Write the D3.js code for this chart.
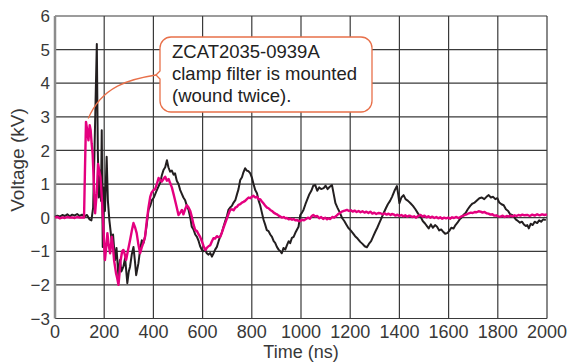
<!DOCTYPE html>
<html>
<head>
<meta charset="utf-8">
<script src="https://cdn.jsdelivr.net/npm/d3@7"></script>
<style>
  body { margin: 0; background: #fff; }
  svg { display: block; font-family: "Liberation Sans", Arial, sans-serif; }
</style>
</head>
<body>
<div id="chart"></div>
<script>
// axis ticks
var xTicks = [0, 200, 400, 600, 800, 1000, 1200, 1400, 1600, 1800, 2000];
var yTicks = [-3, -2, -1, 0, 1, 2, 3, 4, 5, 6];

// waveform without filter (black), time in ns / voltage in kV
var blackTime = [0,10,20,30,40,50,60,70,80,90,100,110,120,130,140,148,155,160,165,170,174,178,183,187,190,194,198,203,210,215,221,226,231,236,244,250,258,264,270,278,285,294,300,305,312,319,325,330,339,346,353,360,366,373,380,387,394,402,411,419,427,434,441,448,455,461,468,475,482,488,495,502,509,516,522,529,536,543,550,556,563,570,577,584,590,597,604,610,617,624,631,638,645,651,658,665,672,678,685,692,699,705,712,719,726,733,740,746,753,760,766,773,780,787,794,800,807,814,821,828,834,841,848,854,861,868,875,882,889,895,902,909,916,922,929,936,943,950,956,963,970,977,984,990,997,1004,1010,1018,1026,1034,1042,1050,1058,1066,1074,1082,1092,1100,1108,1117,1126,1133,1140,1148,1158,1167,1176,1184,1192,1201,1210,1220,1230,1241,1250,1259,1268,1276,1285,1294,1302,1310,1319,1328,1336,1345,1353,1362,1370,1380,1390,1395,1400,1408,1417,1425,1435,1445,1455,1465,1476,1486,1495,1505,1512,1519,1528,1536,1545,1553,1562,1570,1578,1586,1594,1602,1611,1620,1628,1636,1645,1652,1660,1669,1678,1688,1697,1706,1716,1725,1735,1745,1754,1763,1772,1781,1790,1798,1806,1815,1824,1833,1842,1850,1858,1865,1873,1882,1890,1898,1906,1914,1920,1926,1934,1942,1950,1960,1968,1976,1985,1995];
var blackVolt = [0.02,0.06,0.03,0.08,0.05,0.10,0.04,0.09,0.06,0.11,0.05,0.09,0.04,0.08,-0.05,-0.08,0.3,1.8,3.5,5.17,2.0,0.6,1.4,0.5,2.6,-0.87,0.9,0.2,1.81,0.5,-0.07,-0.4,-0.76,-0.5,-1.26,-0.9,-1.76,-1.26,-1.6,-1.46,-1.2,-1.95,-1.6,-1.46,-1.1,-0.87,-1.3,-1.71,-1.36,-0.95,-0.67,-0.75,-0.57,-0.2,0.23,0.35,0.52,0.6,0.77,0.9,1.03,1.25,1.42,1.5,1.71,1.5,1.37,1.4,1.28,1.32,1.1,1.0,0.82,0.7,0.6,0.52,0.35,0.23,0.0,-0.27,-0.35,-0.5,-0.57,-0.7,-0.85,-0.96,-1.0,-0.95,-1.06,-1.1,-1.05,-1.16,-1.05,-0.95,-0.87,-0.7,-0.55,-0.45,-0.27,-0.1,0.05,0.23,0.3,0.35,0.45,0.52,0.7,0.85,1.12,1.2,1.35,1.47,1.4,1.38,1.32,1.2,1.0,0.82,0.73,0.5,0.37,0.15,-0.07,-0.2,-0.37,-0.4,-0.5,-0.57,-0.7,-0.75,-0.87,-0.95,-1.0,-1.06,-0.9,-0.95,-0.82,-0.7,-0.76,-0.6,-0.57,-0.45,-0.35,-0.27,0.08,0.15,0.23,0.4,0.55,0.7,0.8,0.95,0.97,0.8,0.9,0.85,0.88,0.95,0.85,0.92,0.97,0.7,0.43,0.3,0.15,-0.01,-0.1,-0.2,-0.3,-0.37,-0.45,-0.55,-0.62,-0.72,-0.78,-0.85,-0.88,-0.78,-0.7,-0.55,-0.42,-0.3,-0.15,0.0,0.14,0.28,0.4,0.5,0.62,0.8,0.94,0.7,0.43,0.6,0.67,0.55,0.5,0.43,0.35,0.25,0.12,0.03,-0.1,-0.18,-0.25,-0.32,-0.2,-0.3,-0.22,-0.27,-0.38,-0.35,-0.42,-0.48,-0.46,-0.4,-0.3,-0.32,-0.22,-0.15,-0.05,0.0,0.08,0.14,0.25,0.35,0.42,0.45,0.52,0.58,0.6,0.55,0.62,0.67,0.6,0.62,0.55,0.58,0.45,0.4,0.37,0.25,0.2,0.1,0.08,0.03,-0.05,-0.1,-0.15,-0.12,-0.2,-0.25,-0.22,-0.32,-0.18,-0.22,-0.12,-0.16,-0.08,-0.12,-0.05,-0.07];

// waveform with clamp filter (magenta)
var pinkTime = [0,10,20,30,40,50,60,70,80,90,100,110,118,122,126,131,136,141,145,149,153,158,163,167,170,175,180,185,190,194,197,203,208,213,218,224,231,236,240,248,253,258,263,267,273,278,284,289,296,305,312,319,326,332,339,346,352,359,366,373,380,387,393,400,407,414,421,428,434,441,448,455,462,468,475,482,488,495,502,509,516,522,529,536,543,550,556,563,570,577,584,590,597,604,611,617,624,631,638,644,651,658,665,672,678,685,692,699,705,712,719,726,733,739,746,753,760,766,773,780,787,794,800,807,814,821,828,834,841,848,855,862,868,875,882,889,896,902,909,916,923,930,937,943,950,957,964,970,977,984,990,997,1005,1012,1020,1028,1036,1044,1050,1058,1066,1074,1082,1090,1098,1106,1112,1119,1127,1135,1143,1150,1158,1166,1174,1182,1187,1195,1203,1210,1218,1226,1234,1242,1250,1258,1266,1274,1282,1290,1298,1306,1314,1323,1331,1340,1348,1356,1364,1370,1376,1384,1392,1400,1408,1416,1424,1432,1440,1445,1452,1460,1468,1476,1486,1494,1502,1510,1518,1526,1534,1542,1550,1558,1566,1574,1582,1590,1598,1606,1614,1622,1630,1641,1650,1658,1666,1674,1682,1690,1698,1706,1714,1722,1730,1738,1746,1754,1762,1770,1778,1786,1794,1802,1811,1820,1828,1836,1844,1852,1860,1868,1876,1884,1892,1900,1908,1920,1930,1940,1950,1960,1970,1980,1990,2000];
var pinkVolt = [0.0,0.02,-0.02,0.01,-0.01,0.02,0.0,0.01,-0.01,0.02,0.0,0.01,0.0,1.5,2.85,2.6,2.3,2.75,2.6,2.2,1.9,1.0,0.13,0.5,0.73,1.6,1.4,1.2,0.62,0.1,-0.37,-1.26,-0.9,-0.46,-0.8,-1.06,-0.57,-0.9,-1.26,-1.65,-1.8,-2.0,-1.6,-1.26,-1.0,-0.96,-1.1,-1.26,-1.0,-0.67,-0.4,-0.16,-0.3,-0.46,-0.8,-1.06,-0.9,-0.75,-0.57,-0.1,0.3,0.62,0.75,0.82,0.85,1.0,1.18,1.12,1.07,1.15,1.22,1.1,1.15,1.03,0.9,0.7,0.52,0.3,0.08,0.15,0.23,0.1,0.25,0.37,0.3,0.2,0.03,-0.2,-0.37,-0.4,-0.5,-0.57,-0.7,-0.85,-0.96,-0.9,-0.85,-0.82,-0.7,-0.61,-0.62,-0.55,-0.58,-0.57,-0.45,-0.3,-0.16,-0.02,0.1,0.23,0.25,0.22,0.3,0.32,0.38,0.4,0.45,0.47,0.5,0.55,0.6,0.58,0.62,0.65,0.6,0.62,0.55,0.55,0.48,0.42,0.35,0.3,0.28,0.23,0.2,0.15,0.12,0.1,0.06,0.03,0.0,0.02,-0.02,-0.01,-0.05,-0.03,-0.06,-0.04,-0.08,-0.07,-0.1,-0.1,-0.06,-0.08,-0.04,0.0,-0.03,0.05,0.08,0.03,0.05,-0.02,0.02,-0.04,0.0,-0.05,-0.02,-0.04,0.02,0.0,0.05,0.1,0.14,0.18,0.2,0.22,0.23,0.2,0.22,0.18,0.21,0.17,0.2,0.16,0.19,0.15,0.18,0.14,0.18,0.12,0.15,0.11,0.14,0.13,0.1,0.13,0.09,0.12,0.08,0.11,0.1,0.06,0.09,0.05,0.08,0.04,0.07,0.03,0.06,0.05,0.02,0.04,0.0,0.05,0.08,0.03,0.06,0.01,0.04,0.0,0.03,-0.01,0.02,-0.02,0.01,-0.03,0.0,-0.02,0.0,-0.03,0.01,-0.01,0.02,-0.01,0.03,0.05,0.08,0.1,0.13,0.15,0.14,0.17,0.16,0.19,0.18,0.15,0.17,0.13,0.12,0.09,0.1,0.06,0.07,0.04,0.03,0.06,0.02,0.05,0.03,0.06,0.04,0.07,0.05,0.08,0.06,0.09,0.07,0.08,0.05,0.09,0.06,0.1,0.07,0.1,0.08,0.1];

var calloutLines = ["ZCAT2035-0939A", "clamp filter is mounted", "(wound twice)."];

var width = 577, height = 363;
var margin = {top: 16, right: 30, bottom: 44.5, left: 55};

var svg = d3.select("#chart").append("svg")
  .attr("width", width)
  .attr("height", height);

var x = d3.scaleLinear().domain([0, 2000]).range([margin.left, width - margin.right]);
var y = d3.scaleLinear().domain([-3, 6]).range([height - margin.bottom, margin.top]);

// grid
svg.append("g").selectAll("line.v")
  .data(xTicks.slice(1))
  .enter().append("line")
  .attr("x1", function(d) { return x(d); })
  .attr("x2", function(d) { return x(d); })
  .attr("y1", y(-3)).attr("y2", y(6))
  .attr("stroke", "#3a3a3a").attr("stroke-width", 1.2);

svg.append("g").selectAll("line.h")
  .data(yTicks)
  .enter().append("line")
  .attr("x1", x(0)).attr("x2", x(2000))
  .attr("y1", function(d) { return y(d); })
  .attr("y2", function(d) { return y(d); })
  .attr("stroke", "#3a3a3a").attr("stroke-width", 1.2);

// left axis line (grey)
svg.append("line")
  .attr("x1", x(0)).attr("x2", x(0))
  .attr("y1", y(-3)).attr("y2", y(6))
  .attr("stroke", "#8c8c8c").attr("stroke-width", 2.5);

// tick labels
svg.append("g").selectAll("text")
  .data(xTicks)
  .enter().append("text")
  .attr("x", function(d) { return x(d); })
  .attr("y", 338)
  .attr("text-anchor", "middle")
  .attr("font-size", 18)
  .attr("fill", "#383838")
  .text(function(d) { return d; });

svg.append("g").selectAll("text")
  .data(yTicks)
  .enter().append("text")
  .attr("x", 50)
  .attr("y", function(d) { return y(d); })
  .attr("dy", "0.36em")
  .attr("text-anchor", "end")
  .attr("font-size", 17)
  .attr("fill", "#383838")
  .text(function(d) { return d < 0 ? "\u2212" + Math.abs(d) : d; });

svg.append("text")
  .attr("x", (x(0) + x(2000)) / 2)
  .attr("y", 358)
  .attr("text-anchor", "middle")
  .attr("font-size", 18)
  .attr("fill", "#383838")
  .text("Time (ns)");

svg.append("text")
  .attr("transform", "translate(24,160) rotate(-90)")
  .attr("text-anchor", "middle")
  .attr("font-size", 19)
  .attr("fill", "#383838")
  .text("Voltage (kV)");

// waveforms
var line = d3.line()
  .x(function(d) { return x(d[0]); })
  .y(function(d) { return y(d[1]); });

var blackData = d3.zip(blackTime, blackVolt);
var pinkData = d3.zip(pinkTime, pinkVolt);

svg.append("path")
  .datum(blackData)
  .attr("d", line)
  .attr("fill", "none")
  .attr("stroke", "#231f20")
  .attr("stroke-width", 2)
  .attr("stroke-linejoin", "round");

svg.append("path")
  .datum(pinkData)
  .attr("d", line)
  .attr("fill", "none")
  .attr("stroke", "#e4007f")
  .attr("stroke-width", 2.4)
  .attr("stroke-linejoin", "round");

// callout
var orange = "#e8704a";
var bx = 160, by = 37, bw = 212, bh = 75, r = 11, ny = 75;
var box = d3.path();
box.moveTo(bx + r, by);
box.lineTo(bx + bw - r, by);
box.arcTo(bx + bw, by, bx + bw, by + r, r);
box.lineTo(bx + bw, by + bh - r);
box.arcTo(bx + bw, by + bh, bx + bw - r, by + bh, r);
box.lineTo(bx + r, by + bh);
box.arcTo(bx, by + bh, bx, by + bh - r, r);
box.lineTo(bx, ny + 4);
box.lineTo(bx - 4, ny);
box.lineTo(bx, ny - 4);
box.lineTo(bx, by + r);
box.arcTo(bx, by, bx + r, by, r);
box.closePath();

svg.append("path")
  .attr("d", box.toString())
  .attr("fill", "#fff")
  .attr("stroke", orange)
  .attr("stroke-width", 1.3);

var leader = d3.path();
leader.moveTo(bx - 4, ny);
leader.bezierCurveTo(130, 79, 102, 86, x(135), y(2.95));
svg.append("path")
  .attr("d", leader.toString())
  .attr("fill", "none")
  .attr("stroke", orange)
  .attr("stroke-width", 1.3);

svg.append("g").selectAll("text")
  .data(calloutLines)
  .enter().append("text")
  .attr("x", 172)
  .attr("y", function(d, i) { return 58 + i * 22; })
  .attr("font-size", 18.5)
  .attr("fill", "#222")
  .text(function(d) { return d; });
</script>
</body>
</html>
